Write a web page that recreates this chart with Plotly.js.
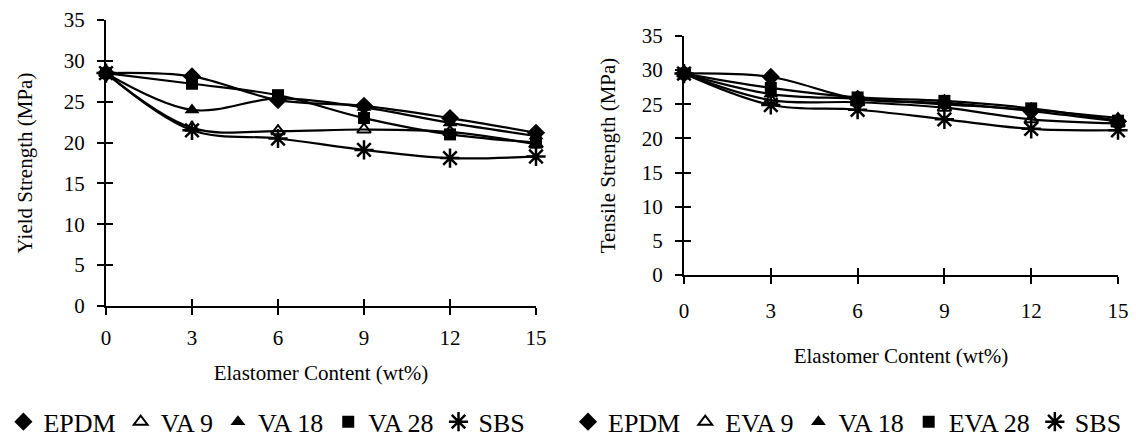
<!DOCTYPE html>
<html>
<head>
<meta charset="utf-8">
<script src="https://cdn.plot.ly/plotly-3.0.1.min.js"></script>
<style>html,body{margin:0;padding:0;background:#fff;}#chart{width:1136px;height:440px;}</style>
</head>
<body>
<div id="chart"></div>
<script>
// ---- data ----
const content = [0, 3, 6, 9, 12, 15];
const xTicks = [0, 3, 6, 9, 12, 15];
const yTicks = [0, 5, 10, 15, 20, 25, 30, 35];

const yieldNames = ["EPDM", "VA 9", "VA 18", "VA 28", "SBS"];
const yieldEPDM = [28.5, 28.1, 25.2, 24.5, 23.0, 21.2];
const yieldVA9  = [28.5, 21.8, 21.4, 21.6, 21.3, 19.8];
const yieldVA18 = [28.5, 24.0, 25.4, 24.3, 22.4, 20.8];
const yieldVA28 = [28.5, 27.2, 25.8, 23.0, 21.0, 20.0];
const yieldSBS  = [28.5, 21.5, 20.5, 19.1, 18.1, 18.3];

const tensileNames = ["EPDM", "EVA 9", "VA 18", "EVA 28", "SBS"];
const tensileEPDM  = [29.5, 29.0, 25.8, 25.2, 24.0, 22.5];
const tensileEVA9  = [29.5, 25.6, 25.3, 24.5, 22.8, 22.2];
const tensileVA18  = [29.5, 26.5, 25.8, 25.0, 24.2, 23.0];
const tensileEVA28 = [29.5, 27.4, 26.0, 25.5, 24.4, 22.6];
const tensileSBS   = [29.5, 24.9, 24.2, 22.8, 21.4, 21.2];

const xTitle = "Elastomer Content (wt%)";
const yTitleLeft = "Yield Strength (MPa)";
const yTitleRight = "Tensile Strength (MPa)";

// ---- styles ----
const FONT = "Liberation Serif";
const markerStyles = [
  {symbol: "diamond", size: 14, color: "#000"},
  {symbol: "triangle-up-open", size: 12, color: "#000", line: {color: "#000", width: 2}},
  {symbol: "triangle-up", size: 13, color: "#000"},
  {symbol: "square", size: 12, color: "#000"},
  {symbol: "asterisk-open", size: 16, color: "#000", line: {color: "#000", width: 2.5}}
];

function buildTraces(names, series, xa, ya, xo, yo, legendId) {
  const tr = [];
  series.forEach((s, i) => {
    tr.push({
      x: content, y: s, xaxis: xa, yaxis: ya, type: "scatter", mode: "lines",
      line: {shape: "spline", color: "#000", width: 2.2}, showlegend: false, hoverinfo: "skip"
    });
  });
  series.forEach((s, i) => {
    tr.push({
      x: content, y: s, xaxis: xo, yaxis: yo, type: "scatter", mode: "markers",
      name: names[i], marker: markerStyles[i], cliponaxis: false,
      legend: legendId, showlegend: true
    });
  });
  return tr;
}

const traces = []
  .concat(buildTraces(yieldNames, [yieldEPDM, yieldVA9, yieldVA18, yieldVA28, yieldSBS], "x", "y", "x3", "y3", "legend"))
  .concat(buildTraces(tensileNames, [tensileEPDM, tensileEVA9, tensileVA18, tensileEVA28, tensileSBS], "x2", "y2", "x4", "y4", "legend2"));

const W = 1136, H = 440;
const L = {x0: 106, x1: 536, yTop: 20, yBot: 306};
const R = {x0: 684, x1: 1118, yTop: 36, yBot: 275};

function xBase(dom, anchor, titleText, labelOff, titleOff) {
  return {
    domain: dom, anchor: anchor, range: [0, 15], fixedrange: true,
    tickmode: "array", tickvals: xTicks, ticktext: xTicks.map(String),
    ticks: "outside", ticklen: 7, tickwidth: 2, tickcolor: "#000",
    ticklabelstandoff: labelOff,
    showline: true, linewidth: 2, linecolor: "#000", showgrid: false, zeroline: false,
    tickfont: {family: FONT, size: 21, color: "#000"},
    automargin: true,
    title: {text: titleText, font: {family: FONT, size: 21, color: "#000"}, standoff: titleOff}
  };
}
function yBase(dom, anchor, titleText, standoff) {
  return {
    domain: dom, anchor: anchor, range: [0, 35], fixedrange: true,
    tickmode: "array", tickvals: yTicks, ticktext: yTicks.map(String),
    ticks: "outside", ticklen: 7, tickwidth: 2, tickcolor: "#000",
    ticklabelstandoff: 8,
    showline: true, linewidth: 2, linecolor: "#000", showgrid: false, zeroline: false,
    tickfont: {family: FONT, size: 21, color: "#000"},
    automargin: true,
    title: {text: titleText, font: {family: FONT, size: 21, color: "#000"}, standoff: standoff}
  };
}
function overlay(base, anchor, ticks, range) {
  return {
    overlaying: base, anchor: anchor, range: range, fixedrange: true,
    tickmode: "array", tickvals: ticks, ticks: "inside", ticklen: 7, tickwidth: 2, tickcolor: "#000",
    showticklabels: false, showline: false, showgrid: false, zeroline: false
  };
}

const legendFont = {family: FONT, size: 26, color: "#000"};

const layout = {
  width: W, height: H,
  margin: {l: 0, r: 0, t: 0, b: 0, pad: 0, autoexpand: false},
  paper_bgcolor: "#fff", plot_bgcolor: "rgba(0,0,0,0)",
  font: {family: FONT, color: "#000"},
  xaxis: xBase([L.x0 / W, L.x1 / W], "y", xTitle, 5, 16),
  yaxis: yBase([(H - L.yBot) / H, (H - L.yTop) / H], "x", yTitleLeft, 25),
  xaxis2: xBase([R.x0 / W, R.x1 / W], "y2", xTitle, 9, 26),
  yaxis2: yBase([(H - R.yBot) / H, (H - R.yTop) / H], "x2", yTitleRight, 20),
  xaxis3: overlay("x", "y3", xTicks, [0, 15]),
  yaxis3: overlay("y", "x3", yTicks, [0, 35]),
  xaxis4: overlay("x2", "y4", xTicks, [0, 15]),
  yaxis4: overlay("y2", "x4", yTicks, [0, 35]),
  legend: {
    orientation: "h", x: 0.003, xanchor: "left", y: -0.012, yanchor: "bottom",
    font: legendFont, bgcolor: "rgba(0,0,0,0)", itemwidth: 30, traceorder: "normal"
  },
  legend2: {
    orientation: "h", x: 0.5, xanchor: "left", y: -0.012, yanchor: "bottom",
    font: legendFont, bgcolor: "rgba(0,0,0,0)", itemwidth: 30, traceorder: "normal"
  },
  showlegend: true
};

Plotly.newPlot("chart", traces, layout, {staticPlot: true, displayModeBar: false});
</script>
</body>
</html>
